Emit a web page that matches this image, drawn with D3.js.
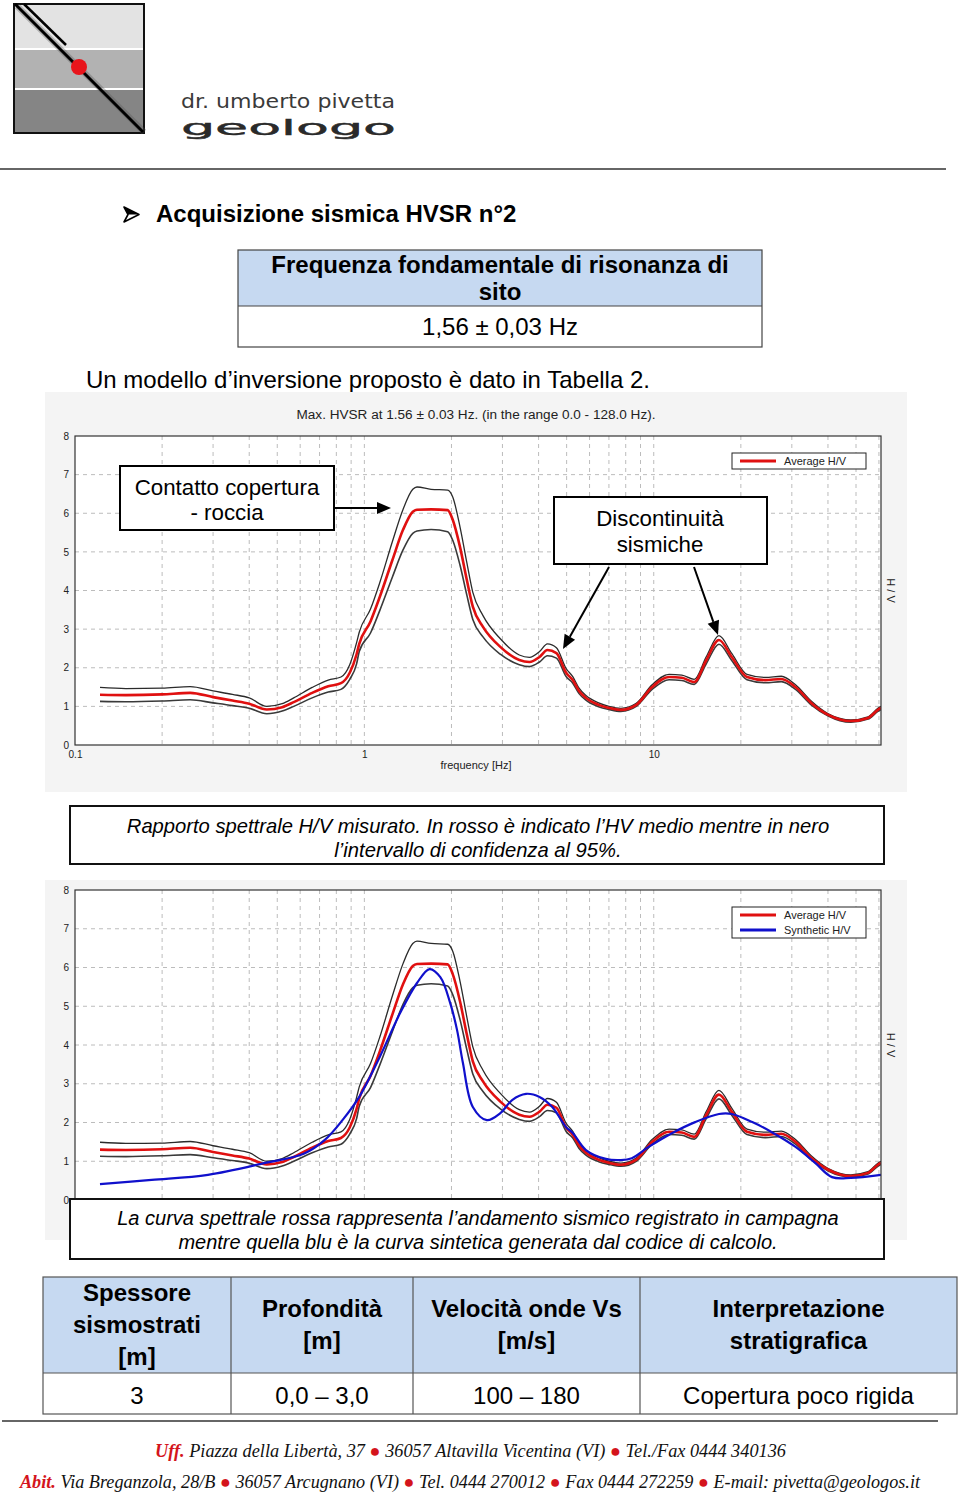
<!DOCTYPE html>
<html><head><meta charset="utf-8">
<script src="https://cdn.jsdelivr.net/npm/d3@7"></script>
<style>body{margin:0;background:#fff}svg{display:block}</style>
</head><body>
<svg id="page" width="960" height="1495"></svg>
<script>
// ---------- DATA ----------
const freqs   = [0.122,0.15,0.2,0.25,0.3,0.35,0.4,0.46,0.52,0.57,0.66,0.75,0.83,0.89,0.94,0.96,1.05,1.13,1.25,1.36,1.47,1.52,1.7,1.94,2.02,2.14,2.26,2.37,2.57,2.95,3.43,3.72,4.03,4.29,4.61,4.98,5.25,5.52,5.83,6.45,7.0,7.7,8.7,9.87,11.3,12.5,13.8,15.2,16.8,18.6,21.0,24.3,27.6,30.9,35.0,40.1,44,48,55,59.5,61];
const meanHV  = [1.30,1.29,1.31,1.35,1.24,1.15,1.07,0.92,0.98,1.11,1.35,1.52,1.60,1.87,2.35,2.62,3.2,3.83,4.79,5.57,6.04,6.09,6.10,6.08,5.83,5.13,4.27,3.58,3.06,2.54,2.20,2.15,2.28,2.46,2.38,1.87,1.68,1.40,1.22,1.04,0.96,0.91,1.04,1.50,1.76,1.74,1.63,2.20,2.72,2.28,1.76,1.68,1.71,1.50,1.09,0.78,0.66,0.62,0.70,0.91,0.96];
const upperHV = [1.49,1.46,1.47,1.51,1.40,1.31,1.22,1.00,1.07,1.22,1.49,1.68,1.76,2.08,2.65,2.92,3.52,4.2,5.27,6.1,6.62,6.68,6.62,6.60,6.42,5.65,4.72,3.95,3.35,2.75,2.33,2.27,2.42,2.62,2.52,1.98,1.77,1.47,1.28,1.09,1.0,0.95,1.08,1.56,1.83,1.81,1.70,2.29,2.83,2.37,1.83,1.75,1.78,1.56,1.14,0.81,0.69,0.65,0.73,0.95,1.0];
const lowerHV = [1.13,1.12,1.14,1.17,1.09,1.02,0.95,0.81,0.88,1.0,1.22,1.37,1.44,1.70,2.1,2.42,2.9,3.48,4.35,5.05,5.48,5.54,5.58,5.52,5.3,4.66,3.88,3.25,2.8,2.35,2.08,2.03,2.15,2.31,2.25,1.77,1.6,1.33,1.16,0.99,0.92,0.87,1.0,1.44,1.69,1.67,1.57,2.11,2.61,2.19,1.69,1.61,1.64,1.44,1.04,0.75,0.63,0.59,0.67,0.87,0.92];
const synthFreqs = [0.122,0.184,0.288,0.45,0.62,0.73,0.84,0.96,1.13,1.33,1.52,1.68,1.83,1.98,2.09,2.19,2.37,2.65,2.95,3.24,3.62,4.03,4.46,4.98,5.25,5.83,6.83,7.7,8.4,9.6,11.6,13.9,16.8,18.6,21.9,25.6,30.9,36.2,41.3,48,61];
const synthHV    = [0.41,0.52,0.65,0.95,1.2,1.55,2.06,2.66,3.69,4.83,5.6,5.96,5.75,5.08,4.39,3.54,2.4,2.06,2.24,2.58,2.74,2.66,2.4,1.88,1.73,1.29,1.06,1.03,1.08,1.37,1.73,2.01,2.22,2.22,2.01,1.75,1.37,0.95,0.59,0.57,0.65];
const yTickValues = [0,1,2,3,4,5,6,7,8];
const xTickLabels = [0.1, 1, 10];
const freqDomain = [0.1, 61];
const hvDomain = [0, 8];
const tableHeaders = [["Spessore","sismostrati","[m]"],["Profondità","[m]"],["Velocità onde Vs","[m/s]"],["Interpretazione","stratigrafica"]];
const tableRow = ["3","0,0 – 3,0","100 – 180","Copertura poco rigida"];

// ---------- HELPERS ----------
const svg = d3.select("#page");
const SANS = "'Liberation Sans', Arial, sans-serif";
const NARROW = "'Liberation Sans Narrow', 'Arial Narrow', 'Liberation Sans', Arial, sans-serif";
const SERIF = "'Liberation Serif', 'Times New Roman', serif";
function txt(g, x, y, s, o = {}) {
  const t = g.append("text").attr("x", x).attr("y", y).text(s)
    .attr("font-family", o.family || SANS).attr("font-size", o.size || 24)
    .attr("fill", o.fill || "#000").attr("text-anchor", o.anchor || "start");
  if (o.weight) t.attr("font-weight", o.weight);
  if (o.style) t.attr("font-style", o.style);
  if (o.len) t.attr("textLength", o.len).attr("lengthAdjust", "spacingAndGlyphs");
  return t;
}

// ---------- LOGO ----------
const logo = svg.append("g");
logo.append("rect").attr("x",14).attr("y",4).attr("width",130).attr("height",44).attr("fill","#e3e3e3");
logo.append("rect").attr("x",14).attr("y",50).attr("width",130).attr("height",38).attr("fill","#b2b2b2");
logo.append("rect").attr("x",14).attr("y",90).attr("width",130).attr("height",43).attr("fill","#858585");
logo.append("rect").attr("x",14).attr("y",4).attr("width",130).attr("height",129).attr("fill","none").attr("stroke","#111").attr("stroke-width",2);
logo.append("line").attr("x1",17).attr("y1",6).attr("x2",144).attr("y2",132).attr("stroke","#555").attr("stroke-width",6).attr("opacity",0.35);
logo.append("line").attr("x1",15).attr("y1",4).attr("x2",143).attr("y2",132).attr("stroke","#000").attr("stroke-width",3);
logo.append("line").attr("x1",24).attr("y1",4).attr("x2",66).attr("y2",45).attr("stroke","#000").attr("stroke-width",2.5);
logo.append("circle").attr("cx",79).attr("cy",67).attr("r",8).attr("fill","#e8141b");
txt(logo, 181, 108, "dr. umberto pivetta", {size:20, fill:"#3a3a3a", len:214, family:"'DejaVu Sans', sans-serif"});
txt(logo, 181, 135, "geologo", {size:28, fill:"#2a2a2a", len:215, family:"'DejaVu Sans', sans-serif"})
  .attr("transform","translate(0,135) scale(1,0.75) translate(0,-135)").attr("stroke","#2a2a2a").attr("stroke-width",0.6);
svg.append("line").attr("x1",0).attr("x2",946).attr("y1",169).attr("y2",169).attr("stroke","#333").attr("stroke-width",1.3);

// ---------- HEADING ----------
svg.append("path").attr("d","M124,207 L139,214.5 L124,222 L128,214.5 Z").attr("fill","none").attr("stroke","#000").attr("stroke-width",1.6).attr("stroke-linejoin","round");
svg.append("path").attr("d","M124,207 L139,214.5 L128,214.5 Z").attr("fill","#000");
txt(svg, 156, 222, "Acquisizione sismica HVSR n°2", {weight:"bold", size:24});

// frequency box
const fb = svg.append("g");
fb.append("rect").attr("x",238).attr("y",250).attr("width",524).attr("height",56).attr("fill","#c6d9f1");
fb.append("rect").attr("x",238).attr("y",250).attr("width",524).attr("height",97).attr("fill","none").attr("stroke","#444").attr("stroke-width",1.2);
fb.append("line").attr("x1",238).attr("x2",762).attr("y1",306).attr("y2",306).attr("stroke","#444").attr("stroke-width",1.2);
txt(fb, 500, 273, "Frequenza fondamentale di risonanza di", {weight:"bold", anchor:"middle"});
txt(fb, 500, 300, "sito", {weight:"bold", anchor:"middle"});
txt(fb, 500, 335, "1,56 ± 0,03 Hz", {anchor:"middle"});
txt(svg, 86, 388, "Un modello d’inversione proposto è dato in Tabella 2.", {size:24});

// ---------- CHART FUNCTION ----------
function drawChart(c) {
  const g = svg.append("g");
  g.append("rect").attr("x",45).attr("y",c.bgTop).attr("width",862).attr("height",c.bgBottom-c.bgTop).attr("fill","#f4f4f4");
  const x = d3.scaleLog().domain(freqDomain).range([75, 881]);
  const y = d3.scaleLinear().domain(hvDomain).range([c.bottom, c.top]);
  g.append("rect").attr("x",75).attr("y",c.top).attr("width",806).attr("height",c.bottom-c.top).attr("fill","#fff");
  // grid
  const gridX = x.ticks().filter(v => v > 0.1);
  g.append("g").selectAll("line").data(gridX).join("line")
    .attr("x1", d=>x(d)).attr("x2", d=>x(d)).attr("y1", c.top).attr("y2", c.bottom)
    .attr("stroke","#bcbcbc").attr("stroke-dasharray","4,4").attr("stroke-width",1);
  g.append("g").selectAll("line").data(yTickValues.slice(1,-1)).join("line")
    .attr("x1",75).attr("x2",881).attr("y1", d=>y(d)).attr("y2", d=>y(d))
    .attr("stroke","#bcbcbc").attr("stroke-dasharray","4,4").attr("stroke-width",1);
  // axes
  const ya = g.append("g").attr("transform","translate(75,0)")
    .call(d3.axisLeft(y).tickValues(yTickValues).tickSize(0).tickPadding(6).tickFormat(d3.format("d")));
  ya.select(".domain").remove();
  ya.selectAll("text").attr("font-family",NARROW).attr("font-size",10).attr("fill","#222");
  if (c.xLabels) {
    const xa = g.append("g").attr("transform",`translate(0,${c.bottom})`)
      .call(d3.axisBottom(x).tickValues(xTickLabels).tickSize(0).tickPadding(6).tickFormat(d => String(d)));
    xa.select(".domain").remove();
    xa.selectAll("text").attr("font-family",NARROW).attr("font-size",10).attr("fill","#222");
    txt(g, 476, c.bottom+24, "frequency [Hz]", {family:NARROW, size:11, anchor:"middle", fill:"#222"});
  }
  txt(g, 0, 0, "H / V", {family:NARROW, size:11, anchor:"middle", fill:"#222"})
    .attr("transform",`translate(887,${(c.top+c.bottom)/2}) rotate(90)`);
  // curves
  const clipId = "clip"+c.top;
  g.append("clipPath").attr("id",clipId).append("rect").attr("x",75).attr("y",c.top).attr("width",806).attr("height",c.bottom-c.top);
  const cg = g.append("g").attr("clip-path",`url(#${clipId})`);
  const line = d3.line().x(d=>x(d[0])).y(d=>y(d[1])).curve(d3.curveMonotoneX);
  cg.append("path").attr("d", line(freqs.map((f,i)=>[f, upperHV[i]]))).attr("fill","none").attr("stroke","#2b2b2b").attr("stroke-width",1.3);
  cg.append("path").attr("d", line(freqs.map((f,i)=>[f, lowerHV[i]]))).attr("fill","none").attr("stroke","#3a3a3a").attr("stroke-width",1.6);
  cg.append("path").attr("d", line(freqs.map((f,i)=>[f, meanHV[i]]))).attr("fill","none").attr("stroke","#e01010").attr("stroke-width",2.6);
  if (c.synth) {
    cg.append("path").attr("d", d3.line().x(d=>x(d[0])).y(d=>y(d[1])).curve(d3.curveCatmullRom)(synthFreqs.map((f,i)=>[f, synthHV[i]])))
      .attr("fill","none").attr("stroke","#1010cc").attr("stroke-width",2.2);
  }
  g.append("rect").attr("x",75).attr("y",c.top).attr("width",806).attr("height",c.bottom-c.top).attr("fill","none").attr("stroke","#333").attr("stroke-width",1.2);
  // legend
  const lg = g.append("g");
  lg.append("rect").attr("x",732).attr("y",c.top+17).attr("width",134).attr("height",c.legend.length*15+1).attr("fill","#fff").attr("stroke","#222").attr("stroke-width",1);
  c.legend.forEach((e,i) => {
    const ly = c.top + 25 + i*15;
    lg.append("line").attr("x1",740).attr("x2",776).attr("y1",ly).attr("y2",ly).attr("stroke",e.color).attr("stroke-width",3);
    txt(lg, 784, ly+4, e.label, {family:NARROW, size:11, fill:"#222"});
  });
  return {g, x, y};
}

// ---------- CHART 1 ----------
const c1 = drawChart({bgTop:392, bgBottom:792, top:436, bottom:745, synth:false, xLabels:true, legend:[{label:"Average H/V", color:"#e01010"}]});
txt(c1.g, 476, 419, "Max. HVSR at 1.56 ± 0.03 Hz. (in the range 0.0 - 128.0 Hz).", {family:NARROW, size:12, anchor:"middle", fill:"#222", len:359});
// annotation boxes
function arrow(g, x1, y1, x2, y2) {
  const a = Math.atan2(y2-y1, x2-x1), L = 14, W = 6;
  const bx = x2 - L*Math.cos(a), by = y2 - L*Math.sin(a);
  g.append("line").attr("x1",x1).attr("y1",y1).attr("x2",bx).attr("y2",by).attr("stroke","#000").attr("stroke-width",2);
  g.append("path").attr("d",`M${x2},${y2} L${bx - W*Math.sin(a)},${by + W*Math.cos(a)} L${bx + W*Math.sin(a)},${by - W*Math.cos(a)} Z`).attr("fill","#000");
}
const ann = svg.append("g");
ann.append("rect").attr("x",120).attr("y",466).attr("width",214).attr("height",64).attr("fill","#fff").attr("stroke","#000").attr("stroke-width",2);
txt(ann, 227, 495, "Contatto copertura", {anchor:"middle", size:22.3});
txt(ann, 227, 520, "- roccia", {anchor:"middle", size:22.3});
arrow(ann, 334, 508, 391, 508);
ann.append("rect").attr("x",554).attr("y",497).attr("width",213).attr("height",67).attr("fill","#fff").attr("stroke","#000").attr("stroke-width",2);
txt(ann, 660, 526, "Discontinuità", {anchor:"middle", size:22.3});
txt(ann, 660, 552, "sismiche", {anchor:"middle", size:22.3});
arrow(ann, 609, 567, 563, 649);
arrow(ann, 694, 567, 718, 635);

// caption 1
const cap1 = svg.append("g");
cap1.append("rect").attr("x",70).attr("y",806).attr("width",814).attr("height",58).attr("fill","#fff").attr("stroke","#111").attr("stroke-width",2);
txt(cap1, 478, 833, "Rapporto spettrale H/V  misurato. In rosso è indicato l’HV medio mentre in nero", {anchor:"middle", size:20.2, style:"italic"});
txt(cap1, 478, 857, "l’intervallo di confidenza al 95%.", {anchor:"middle", size:20.2, style:"italic"});

// ---------- CHART 2 ----------
drawChart({bgTop:880, bgBottom:1240, top:890, bottom:1200, synth:true, xLabels:false, legend:[{label:"Average H/V", color:"#e01010"},{label:"Synthetic H/V", color:"#1010cc"}]});
const cap2 = svg.append("g");
cap2.append("rect").attr("x",70).attr("y",1199).attr("width",814).attr("height",60).attr("fill","#fff").attr("stroke","#111").attr("stroke-width",2);
svg.append("rect").attr("x",40).attr("y",1260).attr("width",870).attr("height",12).attr("fill","#fff");
txt(cap2, 478, 1225, "La curva spettrale rossa rappresenta l’andamento sismico registrato in campagna", {anchor:"middle", size:20, style:"italic"});
txt(cap2, 478, 1249, "mentre quella blu è la curva sintetica generata dal codice di calcolo.", {anchor:"middle", size:20, style:"italic"});

// ---------- TABLE ----------
const colX = [43, 231, 413, 640, 957];
const tb = svg.append("g");
tb.append("rect").attr("x",43).attr("y",1277).attr("width",914).attr("height",96).attr("fill","#c6d9f1");
tb.append("rect").attr("x",43).attr("y",1277).attr("width",914).attr("height",137).attr("fill","none").attr("stroke","#555").attr("stroke-width",1.2);
tb.append("line").attr("x1",43).attr("x2",957).attr("y1",1373).attr("y2",1373).attr("stroke","#555").attr("stroke-width",1.2);
colX.slice(1,-1).forEach(cx => tb.append("line").attr("x1",cx).attr("x2",cx).attr("y1",1277).attr("y2",1414).attr("stroke","#555").attr("stroke-width",1.2));
tableHeaders.forEach((lines, i) => {
  const cx = (colX[i]+colX[i+1])/2;
  const y0 = 1333 - (lines.length-1)*16;
  lines.forEach((s, j) => txt(tb, cx, y0 + j*32, s, {anchor:"middle", weight:"bold", size:24}));
});
tableRow.forEach((s, i) => txt(tb, (colX[i]+colX[i+1])/2, 1404, s, {anchor:"middle", size:24}));
svg.append("line").attr("x1",2).attr("x2",938).attr("y1",1421).attr("y2",1421).attr("stroke","#333").attr("stroke-width",1.3);

// ---------- FOOTER ----------
function footer(x, y, len, label, parts) {
  const t = svg.append("text").attr("x",x).attr("y",y).attr("font-family",SERIF).attr("font-size",18).attr("font-style","italic")
    .attr("textLength",len).attr("lengthAdjust","spacingAndGlyphs");
  t.append("tspan").attr("fill","#d4141c").attr("font-weight","bold").text(label);
  parts.forEach((p, i) => {
    if (i > 0) t.append("tspan").attr("fill","#d4141c").text(" ● ");
    t.append("tspan").attr("fill","#111").text(p);
  });
}
footer(155, 1457, 631, "Uff.", [" Piazza della Libertà, 37 ", "36057 Altavilla Vicentina (VI)", "Tel./Fax 0444 340136"]);
footer(20, 1488, 900, "Abit.", [" Via Breganzola, 28/B", "36057 Arcugnano (VI)", "Tel. 0444 270012", "Fax 0444 272259", "E-mail: pivetta@geologos.it"]);
</script>
</body></html>
